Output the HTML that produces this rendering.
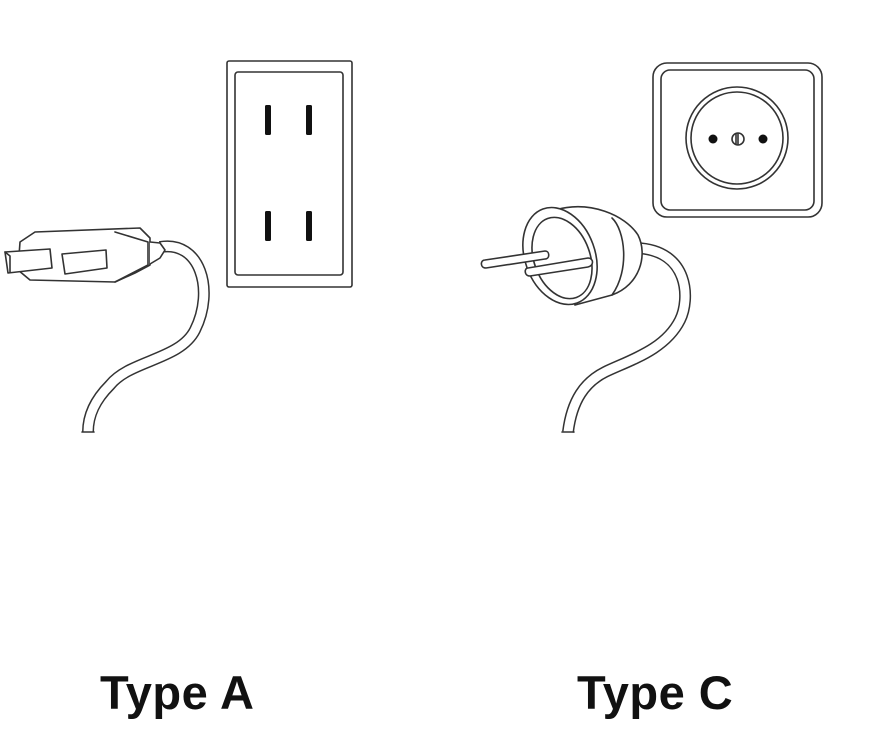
<!DOCTYPE html>
<html><head><meta charset="utf-8"><style>
html,body{margin:0;padding:0;background:#fff;}
body{width:885px;height:738px;position:relative;overflow:hidden;}
svg{position:absolute;left:0;top:0;}
.t{position:absolute;font-family:"Liberation Sans",sans-serif;font-weight:bold;font-size:47px;color:#111;line-height:1;white-space:nowrap;letter-spacing:0.5px;}
</style></head><body>
<svg width="885" height="738" viewBox="0 0 885 738" fill="none" stroke="#333" stroke-width="1.6" stroke-linejoin="round" stroke-linecap="round">
<!-- Type A outlet -->
<rect x="227" y="61" width="125" height="226" rx="2"/>
<rect x="235" y="72" width="108" height="203" rx="3"/>
<g fill="#111" stroke="none">
<rect x="265" y="105" width="6" height="30" rx="1.5"/>
<rect x="306" y="105" width="6" height="30" rx="1.5"/>
<rect x="265" y="211" width="6" height="30" rx="1.5"/>
<rect x="306" y="211" width="6" height="30" rx="1.5"/>
</g>
<!-- Type A cord -->
<path d="M160 247 C200 240 215 290 195 330 C180 360 130 360 110 385 C95 400 88 415 88 432" stroke-width="12" stroke="#333" stroke-linecap="butt"/>
<path d="M160 247 C200 240 215 290 195 330 C180 360 130 360 110 385 C95 400 88 415 88 432" stroke-width="9" stroke="#fff" stroke-linecap="butt"/>
<path d="M82 432 L94 432"/>
<!-- Type A plug -->
<path d="M20 242 L35 232 L140 228 L150 238 L150 265 L135 273 L115 282 L30 280 L18 270 Z" fill="#fff"/>
<path d="M115 232 L148 242 L148 265 L115 282"/>
<path d="M150 242 L160 243 L165 250 L160 258 L150 264" fill="#fff"/>
<path d="M5 252 L50 249 L52 268 L8 273 Z" fill="#fff"/>
<path d="M5 252 L10 256 L10 272"/>
<path d="M62 254 L106 250 L107 268 L65 274 Z" fill="#fff"/>
<!-- Type C outlet -->
<rect x="653" y="63" width="169" height="154" rx="14"/>
<rect x="661" y="70" width="153" height="140" rx="9"/>
<circle cx="737" cy="138" r="51"/>
<circle cx="737" cy="138" r="46"/>
<circle cx="713" cy="139" r="4.5" fill="#111" stroke="none"/>
<circle cx="763" cy="139" r="4.5" fill="#111" stroke="none"/>
<circle cx="738" cy="139" r="6"/>
<path d="M738 134 L738 144 M736 134 L736 144"/>
<!-- Type C cord -->
<path d="M636 248 C690 250 690 300 680 320 C665 350 630 360 605 372 C585 382 572 400 568 432" stroke-width="12" stroke="#333" stroke-linecap="butt"/>
<path d="M636 248 C690 250 690 300 680 320 C665 350 630 360 605 372 C585 382 572 400 568 432" stroke-width="9" stroke="#fff" stroke-linecap="butt"/>
<path d="M562 432 L574 432"/>
<!-- Type C plug -->
<path d="M555 210 C590 200 625 215 638 235 C648 255 640 285 612 295 L575 305 Z" fill="#fff"/>
<path d="M612 218 C625 230 630 270 612 295"/>
<ellipse cx="560" cy="256" rx="35" ry="50" transform="rotate(-20 560 256)" fill="#fff"/>
<ellipse cx="562" cy="258" rx="28" ry="42" transform="rotate(-20 562 258)"/>
<path d="M485 260 L545 251 C550 251 550 259 545 259 L486 268 C480 268 480 260 485 260 Z" fill="#fff"/>
<path d="M528 268 L588 258 C594 258 594 266 588 267 L530 276 C524 276 524 268 528 268 Z" fill="#fff"/>
</svg>
<div class="t" style="left:100px;top:669px;">Type A</div>
<div class="t" style="left:577px;top:669px;">Type C</div>
</body></html>
